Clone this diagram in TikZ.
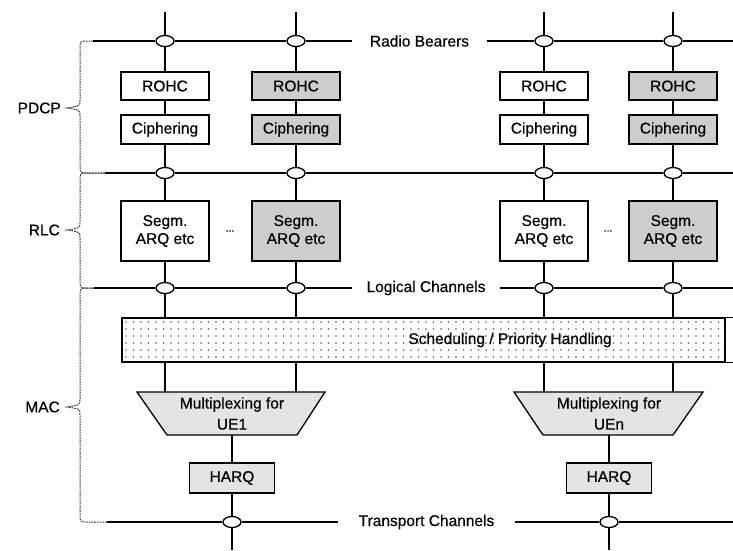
\documentclass[tikz,border=0pt]{standalone}
\usepackage{fontspec}
\setmainfont{Liberation Sans}[FakeBold=0.5]
\usetikzlibrary{shapes.geometric}
\definecolor{boxgray}{RGB}{205,205,205}
\definecolor{softgray}{RGB}{228,228,228}
\definecolor{bracegray}{RGB}{60,60,60}
\definecolor{dotgray}{RGB}{95,95,95}
\begin{document}
\begin{tikzpicture}[x=1pt,y=-1pt,
  font=\fontsize{15.5}{18}\selectfont,
  line/.style={line width=1.3pt},
  blk/.style={draw,line width=1.3pt,minimum width=88pt,inner sep=0pt,align=center},
  joint/.style={ellipse,draw,line width=1.3pt,fill=white,minimum width=18pt,minimum height=11pt,inner sep=0pt},
  chanlbl/.style={inner sep=0pt,minimum height=12pt},
  layerlbl/.style={anchor=east,inner sep=0pt},
  brace/.style={draw=bracegray,line width=1pt,dash pattern=on 1.8pt off 0.9pt},
  harqbox/.style={draw,line width=1.3pt,fill=softgray,minimum width=85pt,minimum height=30pt,inner sep=0pt},
  muxshape/.style={draw,line width=1.3pt,fill=softgray},
  muxtext/.style={minimum width=130pt,minimum height=43pt,inner sep=0pt,align=center,font=\fontsize{15.5}{21}\selectfont}
]
\useasboundingbox (0,0) rectangle (733,550);

% line end points on the left and right margins
\coordinate (rbstart) at (93,41);   \coordinate (rbend) at (733,41);
\coordinate (prstart) at (105,173); \coordinate (prend) at (733,173);
\coordinate (lcstart) at (94,288);  \coordinate (lcend) at (733,288);
\coordinate (trstart) at (107,522); \coordinate (trend) at (733,522);

% channel labels
\node[chanlbl,minimum width=135pt] (rblbl) at (419.5,41) {Radio Bearers};
\node[chanlbl,minimum width=148pt] (lclbl) at (426,288) {Logical Channels};
\node[chanlbl,minimum width=177pt] (trlbl) at (426.5,522) {Transport Channels};

% layer labels
\node[layerlbl] (pdcp) at (61,108) {PDCP};
\node[layerlbl] (rlc) at (60,230) {RLC};
\node[layerlbl] (mac) at (60,407) {MAC};

% per-bearer processing chains
\foreach \c/\x/\f in {1/165/white,2/296/boxgray,3/544/white,4/673/boxgray}{
  \coordinate (top\c) at (\x,12);
  \node[joint] (rb\c) at (\x,41) {};
  \node[blk,fill=\f,minimum height=28pt] (rohc\c) at (\x,86) {ROHC};
  \node[blk,fill=\f,minimum height=29pt] (ciph\c) at (\x,129.5) {Ciphering};
  \node[joint] (pr\c) at (\x,173) {};
  \node[blk,fill=\f,minimum height=60pt] (seg\c) at (\x,231) {Segm.\\ARQ etc};
  \node[joint] (lc\c) at (\x,288) {};
}
\node[font=\fontsize{10}{12}\selectfont] (dots1) at (230,231) {...};
\node[font=\fontsize{10}{12}\selectfont] (dots2) at (608,231) {...};

% scheduling / priority handling
\node[draw,line width=1.3pt,fill=white,minimum width=603pt,minimum height=44pt,inner sep=0pt] (sched) at (423.5,340) {};
\begin{scope}
  \clip (sched.north west) rectangle (sched.south east);
  \foreach \i in {0,...,80}{
    \foreach \j in {0,...,5}{
      \fill[dotgray] (126+\i*7.5,322+\j*7) circle (0.95);
    }
  }
\end{scope}
\draw[line] (sched.north east) -- ++(8,0);
\draw[line] (sched.south east) -- ++(8,0);
\node (schedlbl) at (510,340) {Scheduling / Priority Handling};

% multiplexing per UE
\draw[muxshape] (137,392) -- (325,392) -- (297,435) -- (167,435) -- cycle;
\draw[muxshape] (514,392) -- (703,392) -- (673,435) -- (543,435) -- cycle;
\node[muxtext] (mux1) at (232,413.5) {Multiplexing for\\UE1};
\node[muxtext] (mux2) at (609,413.5) {Multiplexing for\\UEn};

% HARQ and transport channels
\node[harqbox] (harq1) at (232,478) {HARQ};
\node[harqbox] (harq2) at (609,478) {HARQ};
\node[joint] (tr1) at (232,522) {};
\node[joint] (tr2) at (609,522) {};
\coordinate (bot1) at (232,550);
\coordinate (bot2) at (609,550);

% horizontal channel lines
\draw[line] (rbstart) -- (rb1) -- (rb2) -- (rblbl.west);
\draw[line] (rblbl.east) -- (rb3) -- (rb4) -- (rbend);
\draw[line] (prstart) -- (pr1) -- (pr2) -- (pr3) -- (pr4) -- (prend);
\draw[line] (lcstart) -- (lc1) -- (lc2) -- (lclbl.west);
\draw[line] (lclbl.east) -- (lc3) -- (lc4) -- (lcend);
\draw[line] (trstart) -- (tr1) -- (trlbl.west);
\draw[line] (trlbl.east) -- (tr2) -- (trend);

% vertical connections
\foreach \c in {1,2,3,4}{
  \draw[line] (top\c) -- (rb\c) -- (rohc\c) -- (ciph\c) -- (pr\c) -- (seg\c) -- (lc\c) -- (lc\c |- sched.north);
}
\draw[line] (lc1 |- sched.south) -- (lc1 |- mux1.north);
\draw[line] (lc2 |- sched.south) -- (lc2 |- mux1.north);
\draw[line] (lc3 |- sched.south) -- (lc3 |- mux2.north);
\draw[line] (lc4 |- sched.south) -- (lc4 |- mux2.north);
\draw[line] (mux1.south) -- (harq1) -- (tr1) -- (bot1);
\draw[line] (mux2.south) -- (harq2) -- (tr2) -- (bot2);

% layer braces
\draw[brace] (rbstart) -- (88,41) .. controls (80,41) .. (80,49) -- (80,100)
  .. controls (80,106) .. ([xshift=6pt]pdcp.east) .. controls (80,110) .. (80,116)
  -- (80,165) .. controls (80,173) .. (88,173) -- (prstart);
\draw[brace] (prstart) -- (88,173) .. controls (80,173) .. (80,181) -- (80,222)
  .. controls (80,228) .. ([xshift=7pt]rlc.east) .. controls (80,232) .. (80,238)
  -- (80,280) .. controls (80,288) .. (88,288) -- (lcstart);
\draw[brace] (lcstart) -- (88,288) .. controls (80,288) .. (80,296) -- (80,399)
  .. controls (80,405) .. ([xshift=7pt]mac.east) .. controls (80,409) .. (80,415)
  -- (80,514) .. controls (80,522) .. (88,522) -- (trstart);
\end{tikzpicture}
\end{document}
